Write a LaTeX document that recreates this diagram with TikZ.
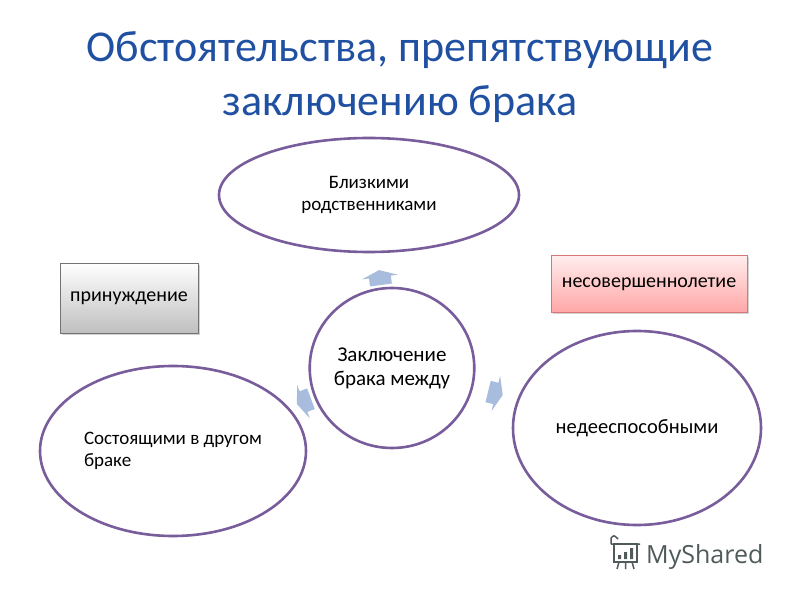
\documentclass[tikz,border=0pt]{standalone}
\usepackage{fontspec}
\setmainfont{Carlito}
\newfontfamily\logofont{Open Sans}
\usetikzlibrary{shadows,calc,shapes.geometric}
\definecolor{ttl}{RGB}{32,80,162}
\definecolor{purp}{RGB}{120,92,155}
\definecolor{arrc}{RGB}{168,189,221}
\definecolor{logoc}{RGB}{80,90,90}
\definecolor{pinkedge}{RGB}{215,120,120}
\tikzset{
  ell/.style={ellipse, draw=purp, line width=2.6pt, fill=white, inner sep=0pt, align=center},
  ttlline/.style={anchor=base, text=ttl, font=\fontsize{44}{52}\selectfont, inner sep=0pt},
  boxgray/.style={draw=black!55, line width=0.8pt, top color=white, bottom color=black!25,
    drop shadow={opacity=0.35, shadow xshift=2pt, shadow yshift=-2pt},
    minimum width=138pt, minimum height=70pt, font=\fontsize{20}{24}\selectfont},
  boxpink/.style={draw=pinkedge, line width=0.8pt, top color=red!7, bottom color=red!35,
    drop shadow={opacity=0.35, shadow xshift=2pt, shadow yshift=-2pt},
    minimum width=196pt, minimum height=57pt, font=\fontsize{20}{24}\selectfont},
  barrow/.pic={\fill[arrc] (-7,-11) -- (1,-11) -- (1,-18) -- (8,0) -- (1,18) -- (1,11) -- (-7,11) -- cycle;}
}
\begin{document}
\begin{tikzpicture}[x=1pt,y=1pt]
\useasboundingbox (0,0) rectangle (800,600);
\fill[white] (0,0) rectangle (800,600);
% title
\node[ttlline] (t1) at (400,538) {Обстоятельства, препятствующие};
\node[ttlline] (t2) at (400,484) {заключению брака};
% ellipses
\node[ell, minimum width=300pt, minimum height=114pt, font=\fontsize{19}{22}\selectfont] (top) at (369,405) {Близкими\\родственниками};
\node[ell, minimum width=160pt, minimum height=160pt, font=\fontsize{21}{24}\selectfont] (c) at (392,232) {Заключение\\брака между};
\node[ell, minimum width=266pt, minimum height=170pt, align=left, font=\fontsize{19}{22}\selectfont] (l) at (173,149) {Состоящими в другом\\браке};
\node[ell, minimum width=248pt, minimum height=194pt, font=\fontsize{20.5}{24}\selectfont] (r) at (637,172) {недееспособными};
% arrows
\pic[rotate=97.6] at ($(c)!0.52!(top)$) {barrow};
\pic[rotate=-13.8] at ($(c)!0.42!(r)$) {barrow};
\pic[rotate=200.75] at ($(c)!0.40!(l)$) {barrow};
% boxes
\node[boxgray] (pr) at (129,302) {принуждение};
\node[boxpink] (ns) at (649,316) {несовершеннолетие};
% logo
\begin{scope}[logoc, line width=1.5pt]
\draw (614,38) rectangle (637,56);
\draw (611,56) -- (640,56) (611,56) -- (611,62) (611,62) .. controls (614,65) .. (618,61);
\fill (618,41) rectangle (621,45) (624,41) rectangle (627,48) (630,41) rectangle (633,52);
\draw (619,38) -- (617,31) (625.5,38) -- (625.5,31) (632,38) -- (634,31);
\end{scope}
\node[anchor=base west, text=logoc, font=\logofont\fontsize{25}{30}\selectfont, inner sep=0pt] (logo) at (646,37) {MyShared};
\end{tikzpicture}
\end{document}
